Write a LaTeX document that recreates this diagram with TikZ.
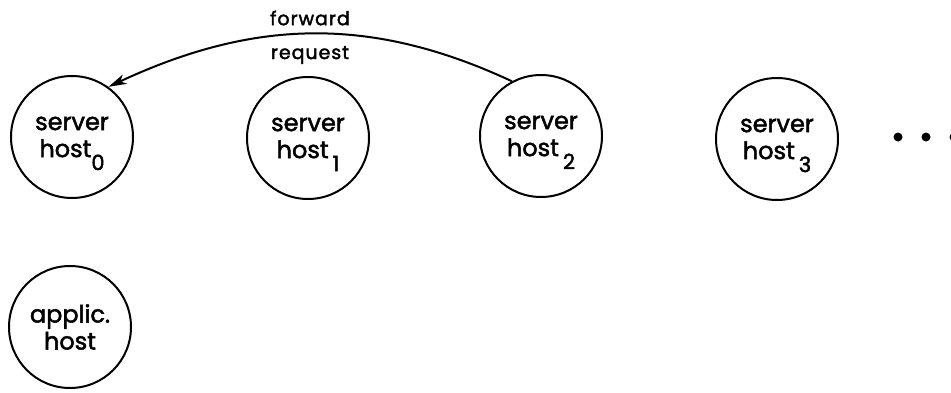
\documentclass[tikz,border=0pt]{standalone}
\usepackage{fontspec}
\setmainfont{Poppins}[BoldFont=Poppins, BoldFeatures={FakeBold=2}]
\usetikzlibrary{arrows.meta}

\tikzset{
	host/.style={circle, draw, line width=2pt, minimum size=122pt, inner sep=0pt, align=center, font=\fontsize{24}{27}\selectfont\bfseries},
	lbl/.style={font=\fontsize{19}{20}\selectfont\bfseries\addfontfeatures{LetterSpace=5}},
	dot/.style={circle, fill, minimum size=9pt, inner sep=0pt}
}
\newcommand{\hsub}[1]{\raisebox{-13pt}[0pt][0pt]{\fontsize{21}{21}\selectfont #1}}

\begin{document}
\begin{tikzpicture}[x=1pt, y=1pt]
			\useasboundingbox (0,0) rectangle (951,392);
			
			%Server hosts
			\node[host] (H0) at (72,255) {server\\host\hsub{0}};
			\node[host] (H1) at (308,254) {server\\host\,\hsub{1}};
			\node[host] (H2) at (541,256) {server\\host\,\hsub{2}};
			\node[host] (H3) at (777,253) {server\\host\,\hsub{3}};
			
			%More hosts
			\foreach \x [count=\i] in {898,926,954}
				\node[dot] (D\i) at (\x,255) {};
			
			%Application host
			\node[host] (A) at (70,65) {applic.\\host};
			
			%Forwarded request
			\draw[line width=2pt, -{Stealth[length=18pt, width=10pt, inset=5pt, fill=black]}] (H2.118) to[out=155, in=25] (H0.54);
			\node[lbl] (F) at (310,374) {forward};
			\node[lbl] (R) at (310,337) {request};
\end{tikzpicture}
\end{document}
